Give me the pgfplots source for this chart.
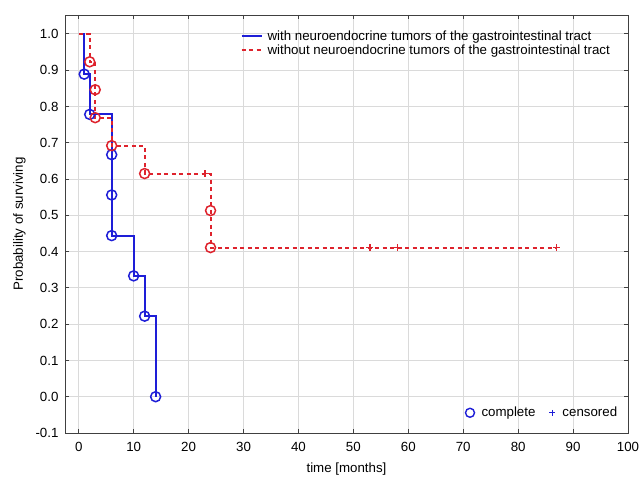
\documentclass[border=0pt]{standalone}
\usepackage{fontspec}
\setmainfont{Liberation Sans}
\usepackage{pgfplots}
\pgfplotsset{compat=1.18}
\definecolor{kmblue}{RGB}{30,30,215}
\definecolor{kmred}{RGB}{222,35,45}
\definecolor{gridgray}{RGB}{218,218,218}

\begin{document}
\begin{tikzpicture}[font=\fontsize{13.3}{15}\selectfont]
\useasboundingbox (0,0) rectangle (639pt,476pt);
\pgfplotsset{
  kmaxis/.style={
    at={(65pt,43pt)}, anchor=south west,
    scale only axis, width=563pt, height=418pt,
    xmin=-2.5, xmax=100, ymin=-0.1, ymax=1.052,
  },
  redline/.style={draw=kmred, line width=2pt, dash pattern=on 4pt off 3.5pt},
  blueline/.style={draw=kmblue, line width=2pt, solid},
}
\begin{axis}[kmaxis, clip=false,
  xtick={0,10,20,30,40,50,60,70,80,90,100},
  ytick={-0.1,0,0.1,0.2,0.3,0.4,0.5,0.6,0.7,0.8,0.9,1.0},
  yticklabel style={xshift=-3pt, /pgf/number format/.cd, fixed, fixed zerofill, precision=1},
  /pgf/number format/assume math mode=true,
  xticklabel style={yshift=-6pt},
  xlabel style={yshift=-4pt},
  ylabel style={yshift=3pt},
  grid=major, grid style={gridgray, line width=0.8pt},
  axis line style={black!75, line width=0.8pt},
  tick style={black!75, line width=0.8pt}, major tick length=4pt,
  xlabel={time [months]}, ylabel={Probability of surviving},
  legend style={at={(0.977,0.973)}, anchor=north east, draw=none, fill=none,
    row sep=-1pt, /tikz/every odd column/.append style={column sep=3pt}},
  legend cell align=left,
  legend image code/.code={\draw[#1] plot coordinates {(0pt,0pt) (20pt,0pt)};},
]
% with NET of the GI tract (step corners)
\addplot[blueline] coordinates {
  (0,1.0) (1,1.0) (1,0.889) (2,0.889) (2,0.778) (6,0.778) (6,0.444)
  (10,0.444) (10,0.333) (12,0.333) (12,0.222) (14,0.222) (14,0.0)
};
\addlegendentry{with neuroendocrine tumors of the gastrointestinal tract}
% without
\addplot[redline] coordinates {
  (0,1.0) (2,1.0) (2,0.923) (3,0.923) (3,0.769) (6,0.769) (6,0.692)
  (12,0.692) (12,0.615) (24,0.615) (24,0.411) (87,0.411)
};
\addlegendentry{without neuroendocrine tumors of the gastrointestinal tract}

% complete (events)
\addplot[forget plot, only marks, mark=o, mark size=5pt, draw=kmblue, line width=1.5pt] coordinates {
  (1,0.889) (2,0.778) (6,0.667) (6,0.556) (6,0.444) (10,0.333) (12,0.222) (14,0.0)
};
\addplot[forget plot, only marks, mark=o, mark size=5pt, draw=kmred, line width=1.5pt] coordinates {
  (2,0.923) (3,0.846) (3,0.769) (6,0.692) (12,0.615) (24,0.513) (24,0.411)
};
% censored
\addplot[forget plot, only marks, mark=+, mark size=3.5pt, draw=kmred, line width=1.4pt] coordinates {
  (23,0.615) (53,0.411) (58,0.411) (87,0.411)
};
\end{axis}

\begin{axis}[kmaxis, hide axis,
  legend columns=2,
  legend style={at={(0.990,0.025)}, anchor=south east, draw=none, fill=none,
    /tikz/every odd column/.append style={column sep=5pt},
    /tikz/every even column/.append style={column sep=12pt}},
  legend image code/.code={\draw[#1] plot coordinates {(0.3cm,0cm)};},
]
\addlegendimage{only marks, mark=o, mark size=4.5pt, draw=kmblue, line width=1.4pt}
\addlegendentry{complete}
\addlegendimage{only marks, mark=+, mark size=3pt, draw=kmblue, line width=1pt}
\addlegendentry{censored}
\end{axis}
\end{tikzpicture}
\end{document}
